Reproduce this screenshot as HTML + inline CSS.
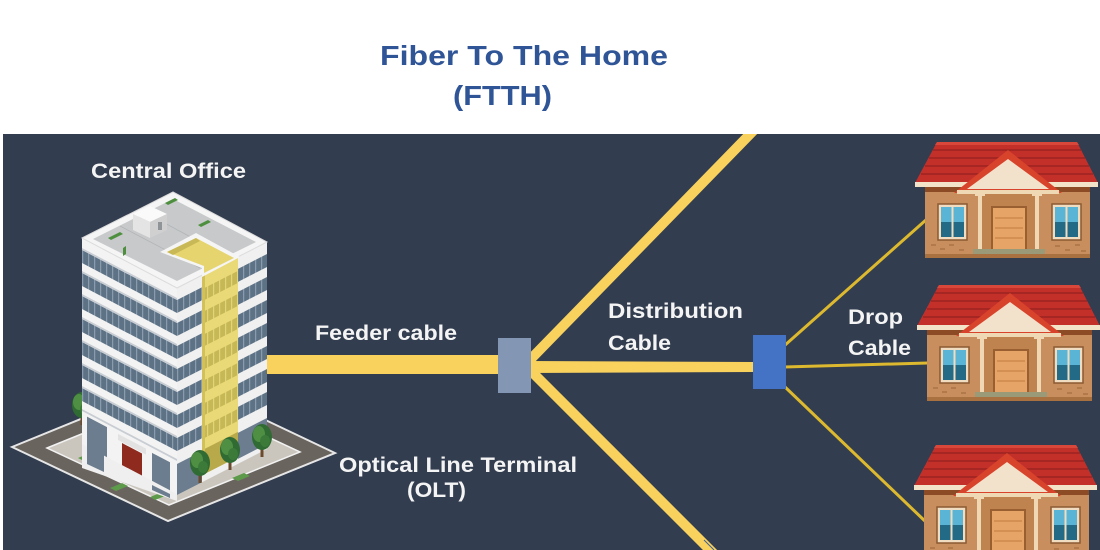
<!DOCTYPE html>
<html>
<head>
<meta charset="utf-8">
<style>
  html,body{margin:0;padding:0;background:#ffffff;}
  svg{display:block;}
  .lbl{font-family:"Liberation Sans",Arial,sans-serif;font-weight:bold;font-size:21px;fill:#f4f4f4;}
  .ttl{font-family:"Liberation Sans",Arial,sans-serif;font-weight:bold;font-size:28px;fill:#2f5597;}
</style>
</head>
<body>
<svg width="1100" height="550" viewBox="0 0 1100 550" xmlns="http://www.w3.org/2000/svg">
  <defs>
    <clipPath id="panel"><rect x="3" y="134" width="1097" height="416"/></clipPath>
    <pattern id="gl" x="0" y="0" width="6" height="30" patternUnits="userSpaceOnUse">
      <rect width="6" height="30" fill="#5e7286"/>
      <rect width="1.2" height="30" fill="#8a9cae"/>
    </pattern>
    <pattern id="gly" x="0" y="0" width="6" height="30" patternUnits="userSpaceOnUse">
      <rect width="6" height="30" fill="#c6b855"/>
      <rect width="1.2" height="30" fill="#e2d47a"/>
    </pattern>
    <g id="house">
      <polygon points="22,0 162,0 183,41 0,41" fill="#c3302a"/>
      <polygon points="22,0 162,0 164,3 20,3" fill="#d9473a"/>
      <g stroke="#9b231f" stroke-width="1.5">
        <line x1="18" y1="8" x2="166" y2="8"/>
        <line x1="14" y1="16" x2="170" y2="16"/>
        <line x1="10" y1="24" x2="174" y2="24"/>
        <line x1="6" y1="32" x2="178" y2="32"/>
      </g>
      <rect x="0" y="40" width="183" height="5" fill="#f3e3c8"/>
      <rect x="10" y="45" width="165" height="71" fill="#c98e5d"/>
      <rect x="10" y="45" width="165" height="5" fill="#8c4a25"/>
      <rect x="10" y="112" width="165" height="4" fill="#a9713f"/>
      <rect x="66" y="50" width="56" height="58" fill="#be834f"/>
      <polygon points="93,8 147,51 39,51" fill="#d8432c"/>
      <polygon points="93,17 134,47 52,47" fill="#f2e2cb"/>
      <rect x="42" y="48" width="102" height="4" fill="#efd9b5"/>
      <rect x="63" y="52" width="4" height="56" fill="#efd8b3"/>
      <rect x="120" y="52" width="4" height="56" fill="#efd8b3"/>
      <rect x="60" y="51" width="10" height="3" fill="#efd8b3"/>
      <rect x="117" y="51" width="10" height="3" fill="#efd8b3"/>
      <rect x="77" y="65" width="34" height="43" fill="#e6a466" stroke="#9a5f30" stroke-width="2"/>
      <g stroke="#c98447" stroke-width="1.2">
        <line x1="80" y1="76" x2="108" y2="76"/>
        <line x1="80" y1="86" x2="108" y2="86"/>
        <line x1="80" y1="96" x2="108" y2="96"/>
      </g>
      <rect x="23" y="62" width="29" height="36" fill="#f0dcc0" stroke="#8b5a32" stroke-width="1.5"/>
      <rect x="26" y="65" width="23" height="15" fill="#5ab4d6"/>
      <rect x="26" y="80" width="23" height="15" fill="#236a86"/>
      <rect x="36.5" y="65" width="2" height="30" fill="#f0dcc0"/>
      <rect x="137" y="62" width="29" height="36" fill="#f0dcc0" stroke="#8b5a32" stroke-width="1.5"/>
      <rect x="140" y="65" width="23" height="15" fill="#5ab4d6"/>
      <rect x="140" y="80" width="23" height="15" fill="#236a86"/>
      <rect x="150.5" y="65" width="2" height="30" fill="#f0dcc0"/>
      <rect x="58" y="107" width="72" height="5" fill="#9b9a78"/>
      <g stroke="#a46b40" stroke-width="1.2">
        <line x1="16" y1="103" x2="21" y2="103"/><line x1="25" y1="107" x2="30" y2="107"/>
        <line x1="34" y1="103" x2="39" y2="103"/><line x1="44" y1="108" x2="49" y2="108"/>
        <line x1="140" y1="104" x2="145" y2="104"/><line x1="150" y1="108" x2="155" y2="108"/>
        <line x1="160" y1="103" x2="165" y2="103"/><line x1="166" y1="109" x2="171" y2="109"/>
      </g>
    </g>
    <g id="tree">
      <rect x="-1.5" y="4" width="3" height="16" fill="#6b4a2e"/>
      <ellipse cx="0" cy="0" rx="10" ry="13" fill="#2f6b33"/>
      <ellipse cx="-3" cy="-3" rx="6" ry="8" fill="#4f8f44"/>
      <ellipse cx="3" cy="4" rx="5" ry="6" fill="#3c7a3a"/>
    </g>
  </defs>

  <rect x="0" y="0" width="1100" height="134" fill="#ffffff"/>
  <text class="ttl" x="380" y="65" textLength="288" lengthAdjust="spacingAndGlyphs">Fiber To The Home</text>
  <text class="ttl" x="453" y="105" textLength="99" lengthAdjust="spacingAndGlyphs">(FTTH)</text>

  <rect x="3" y="134" width="1097" height="416" fill="#323d4f"/>

  <g clip-path="url(#panel)">
    <line x1="524" y1="366" x2="756" y2="128" stroke="#f9d25e" stroke-width="10"/>
    <line x1="524" y1="364" x2="718" y2="558" stroke="#f9d25e" stroke-width="10"/>
    <line x1="714" y1="550" x2="704" y2="540" stroke="#3a5f9a" stroke-width="1"/>
    <polygon points="528,361 753,362 753,372 528,373" fill="#f9d25e"/>
    <rect x="262" y="355" width="238" height="19" fill="#f9d25e"/>
    <g stroke="#dcb92e" stroke-width="3">
      <line x1="784" y1="346" x2="927" y2="219"/>
      <line x1="784" y1="367" x2="928" y2="363"/>
      <line x1="784" y1="386" x2="927" y2="523"/>
    </g>
    <rect x="498" y="338" width="33" height="55" fill="#8396b3"/>
    <rect x="753" y="335" width="33" height="54" fill="#4472c4"/>

    <use href="#house" transform="translate(915,142)"/>
    <use href="#house" transform="translate(917,285)"/>
    <use href="#house" transform="translate(914,445)"/>

    <!-- building plate -->
    <polygon points="12,447 179,379 335,453 168,521" fill="#6a645e" stroke="#e6e6e6" stroke-width="2"/>
    <polygon points="47,448 178,395 300,452 169,505" fill="#cbc6bd" stroke="#f2f2f2" stroke-width="1.5"/>
    <g fill="#5d9a4a">
      <polygon points="78,458 90,453 96,456 84,461"/>
      <polygon points="110,488 122,483 128,486 116,491"/>
      <polygon points="150,497 160,493 165,496 155,500"/>
      <polygon points="232,478 244,473 250,476 238,481"/>
    </g>
    <use href="#tree" transform="translate(82,405)"/>

    <!-- left face -->
    <g transform="matrix(1,0.526,0,1,82,238)">
      <rect x="0" y="0" width="95" height="207" fill="#f3f3f3"/>
      <rect x="0" y="12" width="95" height="13" fill="url(#gl)"/>
      <rect x="0" y="35" width="95" height="13" fill="url(#gl)"/>
      <rect x="0" y="58" width="95" height="13" fill="url(#gl)"/>
      <rect x="0" y="81" width="95" height="13" fill="url(#gl)"/>
      <rect x="0" y="104" width="95" height="13" fill="url(#gl)"/>
      <rect x="0" y="127" width="95" height="13" fill="url(#gl)"/>
      <rect x="0" y="150" width="95" height="13" fill="url(#gl)"/>
      <g fill="#c8cdd3">
        <rect x="0" y="10" width="95" height="2"/>
        <rect x="0" y="33" width="95" height="2"/>
        <rect x="0" y="56" width="95" height="2"/>
        <rect x="0" y="79" width="95" height="2"/>
        <rect x="0" y="102" width="95" height="2"/>
        <rect x="0" y="125" width="95" height="2"/>
        <rect x="0" y="148" width="95" height="2"/>
        <rect x="0" y="171" width="95" height="2"/>
      </g>
      <rect x="5" y="176" width="20" height="31" fill="#6b7d8e"/>
      <rect x="40" y="184" width="20" height="23" fill="#8e2a1e"/>
      <rect x="36" y="177" width="28" height="6" fill="#e2e2e2"/>
      <rect x="70" y="178" width="18" height="29" fill="#6b7d8e"/>
    </g>
    <!-- lobby extension to ground -->
    <polygon points="82,444 177,494 177,501 82,468" fill="#efefef"/>
    <polygon points="87,446 104,455 104,472 87,464" fill="#6b7d8e"/>
    <polygon points="152,485 170,494 170,498 152,490" fill="#6b7d8e"/>

    <!-- right face -->
    <g transform="matrix(1,-0.511,0,1,177,288)">
      <rect x="0" y="0" width="90" height="207" fill="#f0f0f0"/>
      <rect x="25" y="0" width="36" height="200" fill="#ead977"/>
      <g>
        <rect x="0" y="12" width="25" height="13" fill="url(#gl)"/>
        <rect x="0" y="35" width="25" height="13" fill="url(#gl)"/>
        <rect x="0" y="58" width="25" height="13" fill="url(#gl)"/>
        <rect x="0" y="81" width="25" height="13" fill="url(#gl)"/>
        <rect x="0" y="104" width="25" height="13" fill="url(#gl)"/>
        <rect x="0" y="127" width="25" height="13" fill="url(#gl)"/>
        <rect x="0" y="150" width="25" height="13" fill="url(#gl)"/>
        <rect x="0" y="176" width="25" height="31" fill="#6b7d8e"/>
        <rect x="61" y="12" width="29" height="13" fill="url(#gl)"/>
        <rect x="61" y="35" width="29" height="13" fill="url(#gl)"/>
        <rect x="61" y="58" width="29" height="13" fill="url(#gl)"/>
        <rect x="61" y="81" width="29" height="13" fill="url(#gl)"/>
        <rect x="61" y="104" width="29" height="13" fill="url(#gl)"/>
        <rect x="61" y="127" width="29" height="13" fill="url(#gl)"/>
        <rect x="61" y="150" width="29" height="13" fill="url(#gl)"/>
        <rect x="61" y="176" width="29" height="26" fill="#6b7d8e"/>
        <rect x="25" y="14" width="36" height="12" fill="url(#gly)"/>
        <rect x="25" y="37" width="36" height="12" fill="url(#gly)"/>
        <rect x="25" y="60" width="36" height="12" fill="url(#gly)"/>
        <rect x="25" y="83" width="36" height="12" fill="url(#gly)"/>
        <rect x="25" y="106" width="36" height="12" fill="url(#gly)"/>
        <rect x="25" y="129" width="36" height="12" fill="url(#gly)"/>
        <rect x="25" y="152" width="36" height="12" fill="url(#gly)"/>
        <rect x="25" y="175" width="36" height="25" fill="#b8a94a"/>
      </g>
      <rect x="25" y="0" width="3" height="200" fill="#d1c05b"/>
    </g>

    <!-- roof -->
    <polygon points="82,238 173,192 267,242 177,288" fill="#f5f5f5" stroke="#dcdcdc" stroke-width="1"/>
    <polygon points="93,239 173,199 256,242 177,281" fill="#c7c9ca"/>
    <g stroke="#b2b5b8" stroke-width="0.8">
      <line x1="120" y1="226" x2="200" y2="268"/>
      <line x1="146" y1="213" x2="226" y2="256"/>
    </g>
    <polygon points="160,252 196,233 240,257 202,277 202,268" fill="#f5f5f5"/>
    <polygon points="167,252 196,238 234,258 204,273 204,266" fill="#e6d46e"/>
    <polygon points="167,252 196,238 200,241 173,255" fill="#c9b956"/>
    <polygon points="133,214 150,206 167,214 150,222" fill="#fafafa"/>
    <polygon points="133,214 150,222 150,238 133,230" fill="#e4e4e4"/>
    <polygon points="150,222 167,214 167,230 150,238" fill="#d0d0d0"/>
    <rect x="158" y="222" width="4" height="8" fill="#8e9498"/>
    <g fill="#4e8f3f">
      <polygon points="108,238 120,232 123,234 111,240"/>
      <polygon points="123,248 126,246 126,254 123,256"/>
      <polygon points="165,203 175,198 178,200 168,205"/>
      <polygon points="198,225 208,220 211,222 201,227"/>
    </g>

    <use href="#tree" transform="translate(200,463)"/>
    <use href="#tree" transform="translate(230,450)"/>
    <use href="#tree" transform="translate(262,437)"/>

    <text class="lbl" x="91" y="178" textLength="155" lengthAdjust="spacingAndGlyphs">Central Office</text>
    <text class="lbl" x="315" y="340" textLength="142" lengthAdjust="spacingAndGlyphs">Feeder cable</text>
    <text class="lbl" x="608" y="318" textLength="135" lengthAdjust="spacingAndGlyphs">Distribution</text>
    <text class="lbl" x="608" y="350" textLength="63" lengthAdjust="spacingAndGlyphs">Cable</text>
    <text class="lbl" x="848" y="324" textLength="55" lengthAdjust="spacingAndGlyphs">Drop</text>
    <text class="lbl" x="848" y="355" textLength="63" lengthAdjust="spacingAndGlyphs">Cable</text>
    <text class="lbl" x="339" y="472" textLength="238" lengthAdjust="spacingAndGlyphs">Optical Line Terminal</text>
    <text class="lbl" x="407" y="497" textLength="59" lengthAdjust="spacingAndGlyphs">(OLT)</text>
  </g>
</svg>
</body>
</html>
